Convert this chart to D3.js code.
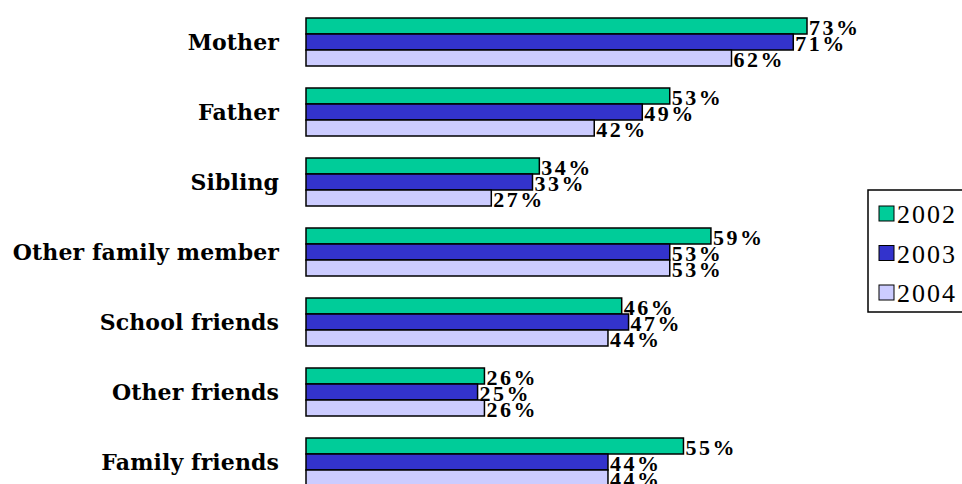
<!DOCTYPE html>
<html><head><meta charset="utf-8">
<script src="https://cdn.jsdelivr.net/npm/d3@7"></script>
<style>html,body{margin:0;padding:0;background:#fff;overflow:hidden}</style>
</head><body>
<svg id="chart" width="962" height="484"></svg>
<script>
const categories = ["Mother","Father","Sibling","Other family member","School friends","Other friends","Family friends"];
const seriesNames = ["2002","2003","2004"];
const values2002 = [73,53,34,59,46,26,55];
const values2003 = [71,49,33,53,47,25,44];
const values2004 = [62,42,27,53,44,26,44];
const colors = ["#00CC99","#3333CC","#CCCCFF"];

const series = [values2002, values2003, values2004];
const svg = d3.select("#chart");

const y = d3.scaleBand().domain(categories).range([7, 497]).paddingInner(22/70).paddingOuter(11/70);
const ySub = d3.scaleBand().domain(seriesNames).range([0, y.bandwidth()]);
const x = d3.scaleLinear().domain([0, 100]).range([306, 306 + 686.3]);

// category axis
const yAxis = d3.axisLeft(y).tickSize(0).tickPadding(0);
const gAx = svg.append("g").attr("transform","translate(279,0)").call(yAxis);
gAx.select(".domain").remove();
gAx.selectAll("text").attr("font-family","'DejaVu Serif', serif").attr("font-weight","bold")
  .attr("font-size","22px").attr("letter-spacing","0.1px").attr("fill","#000").attr("dy","0.36em");

const groups = svg.append("g").selectAll("g").data(categories).join("g")
  .attr("transform", d => `translate(0,${y(d)})`);

seriesNames.forEach((s, si) => {
  groups.append("rect")
    .attr("x", x(0))
    .attr("y", ySub(s))
    .attr("width", (d,i) => x(series[si][i]) - x(0))
    .attr("height", ySub.bandwidth())
    .attr("fill", colors[si]).attr("stroke","#000").attr("stroke-width",1.5);
});
seriesNames.forEach((s, si) => {
  groups.append("text")
    .attr("x", (d,i) => x(series[si][i]) + 2)
    .attr("y", ySub(s) + ySub.bandwidth()/2 + 1.5)
    .attr("dy","0.36em")
    .attr("font-family","'Liberation Serif', serif").attr("font-weight","bold")
    .attr("font-size","22px").attr("letter-spacing","2.5px")
    .text((d,i) => series[si][i] + "%");
});

// legend
const leg = svg.append("g");
leg.append("rect").attr("x",868).attr("y",190).attr("width",120).attr("height",122)
  .attr("fill","#fff").attr("stroke","#000").attr("stroke-width",1.5);
seriesNames.forEach((s, si) => {
  const cy = 214 + si*39.5;
  leg.append("rect").attr("x",879).attr("y",cy-8).attr("width",15).attr("height",15)
    .attr("fill",colors[si]).attr("stroke","#000").attr("stroke-width",1);
  leg.append("text").attr("x",897).attr("y",cy).attr("dy","0.36em")
    .attr("font-family","'Liberation Serif', serif").attr("font-size","26px").attr("letter-spacing","2px").text(s);
});
</script>
</body></html>
